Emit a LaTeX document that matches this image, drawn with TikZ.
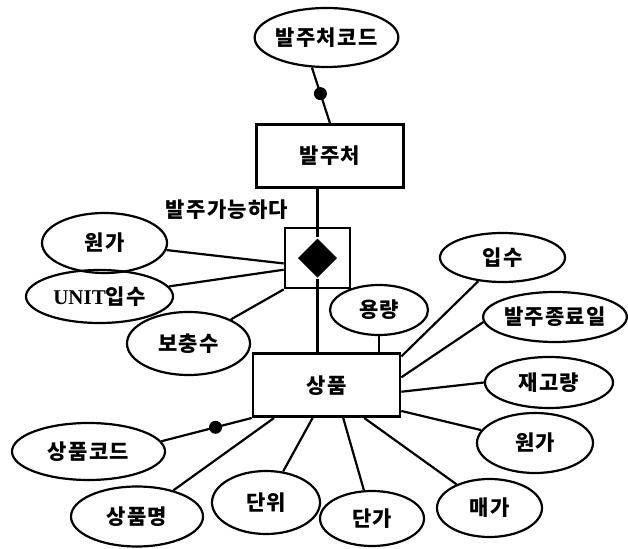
\documentclass[tikz,border=0pt]{standalone}
\usepackage{fontspec}
\newfontfamily\krfont{Noto Sans CJK KR}[LetterSpace=6]
\newfontfamily\unitfont{Liberation Serif}
\usetikzlibrary{positioning,shapes.geometric}

\begin{document}
\begin{tikzpicture}[%
		x=1pt, y=1pt,
		line width=2.2pt,
		font=\krfont\bfseries\fontsize{21}{23}\selectfont,
		entity/.style={%
			draw,
			line width=2.6pt,
			minimum width=147pt,
			minimum height=63pt
		},
		attr/.style={%
			ellipse,
			draw,
			inner sep=0pt
		},
		keydot/.style={%
			circle,
			fill,
			inner sep=0pt,
			minimum size=13pt
		}
		]
		\useasboundingbox (0,0) rectangle (628,548);
		
		\node[entity] (gb)                                            at (330,392) {발주처};
		\node[entity, minimum width=65pt, minimum height=60pt] (rel)  [below=38pt of gb, xshift=-12.5pt] {};
		\node[diamond, fill, inner sep=0pt, minimum width=40pt, minimum height=40pt] (dia) at (rel.center) {};
		\node[entity] (sp)                                            [below=63pt of rel, xshift=9pt] {상품};
		\node (canorder)                                              at (227,338) {발주가능하다};
		
		\node[attr, minimum width=143pt, minimum height=59pt] (gbcode)  at (326.5,510.5) {발주처코드};
		\node[attr, minimum width=125pt, minimum height=60pt] (lwonga)  at (104.5,305)   {원가};
		\node[attr, minimum width=147pt, minimum height=53pt] (unit)    at (99.5,251.5)  {{\unitfont UNIT}입수};
		\node[attr, minimum width=123pt, minimum height=63pt] (bochung) at (188.5,204.5) {보충수};
		\node[attr, minimum width=98pt,  minimum height=50pt] (yong)    at (379,238)     {용량};
		\node[attr, minimum width=125pt, minimum height=49pt] (ipsu)    at (502.5,290.5) {입수};
		\node[attr, minimum width=142pt, minimum height=50pt] (balend)  at (555,231)     {발주종료일};
		\node[attr, minimum width=128pt, minimum height=51pt] (jaego)   at (549,165.5)   {재고량};
		\node[attr, minimum width=116pt, minimum height=60pt] (rwonga)  at (535,105)     {원가};
		\node[attr, minimum width=105pt, minimum height=58pt] (maega)   at (489.5,40)    {매가};
		\node[attr, minimum width=104pt, minimum height=55pt] (danga)   at (372,29.5)    {단가};
		\node[attr, minimum width=108pt, minimum height=63pt] (danwi)   at (266,45.5)    {단위};
		\node[attr, minimum width=132pt, minimum height=60pt] (spname)  at (137,31.5)    {상품명};
		\node[attr, minimum width=153pt, minimum height=57pt] (spcode)  at (88.5,96.5)   {상품코드};
		
		\path (gbcode.244) edge                node[keydot, pos=0.47] {} (gb.north)
		(gb.south -| dia.north) edge           (dia.north)
		(dia.south) edge                       (sp.north -| dia.south)
		(lwonga) edge                          (rel.189)
		(unit) edge                            (rel.199)
		(bochung) edge                         (rel.south west)
		(yong) edge                            (yong |- sp.north)
		(ipsu) edge                            (sp.21)
		(balend.184) edge                      (sp.6)
		(jaego.west) edge                      (sp.355)
		(rwonga) edge                          (sp.341)
		(maega) edge                           (sp.319)
		(danga) edge                           (sp.297)
		(danwi) edge                           (sp.247)
		(spname) edge                          (sp.212)
		(spcode.8) edge                        node[keydot, pos=0.6] {} (sp.south west);
\end{tikzpicture}
\end{document}
